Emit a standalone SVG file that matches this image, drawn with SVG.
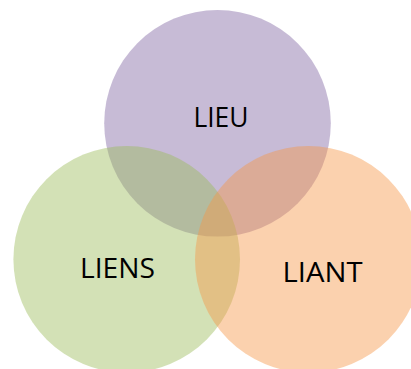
<svg xmlns="http://www.w3.org/2000/svg" width="411" height="369" viewBox="0 0 411 369">
<style>
.c{fill-opacity:0.44;stroke:none}
.t{font-family:"Open Sans","Liberation Sans",sans-serif;font-size:27.5px;fill:#000;text-anchor:middle}
</style>
<rect width="411" height="369" fill="#fff"/>
<g id="lieu"><circle class="c" cx="217.5" cy="123.3" r="113.3" fill="#8064A2"/></g>
<g id="liens"><circle class="c" cx="126.7" cy="259.3" r="113.3" fill="#9BBB59"/></g>
<g id="liant"><circle class="c" cx="308.3" cy="259.3" r="113.3" fill="#F79646"/></g>
<g id="labels">
<text class="t" x="221" y="126.7" textLength="55" lengthAdjust="spacingAndGlyphs">LIEU</text>
<text class="t" x="117.5" y="278" textLength="75" lengthAdjust="spacingAndGlyphs">LIENS</text>
<text class="t" x="322.5" y="281.7" textLength="80" lengthAdjust="spacingAndGlyphs">LIANT</text>
</g>
<g id="connectors"></g>
</svg>
